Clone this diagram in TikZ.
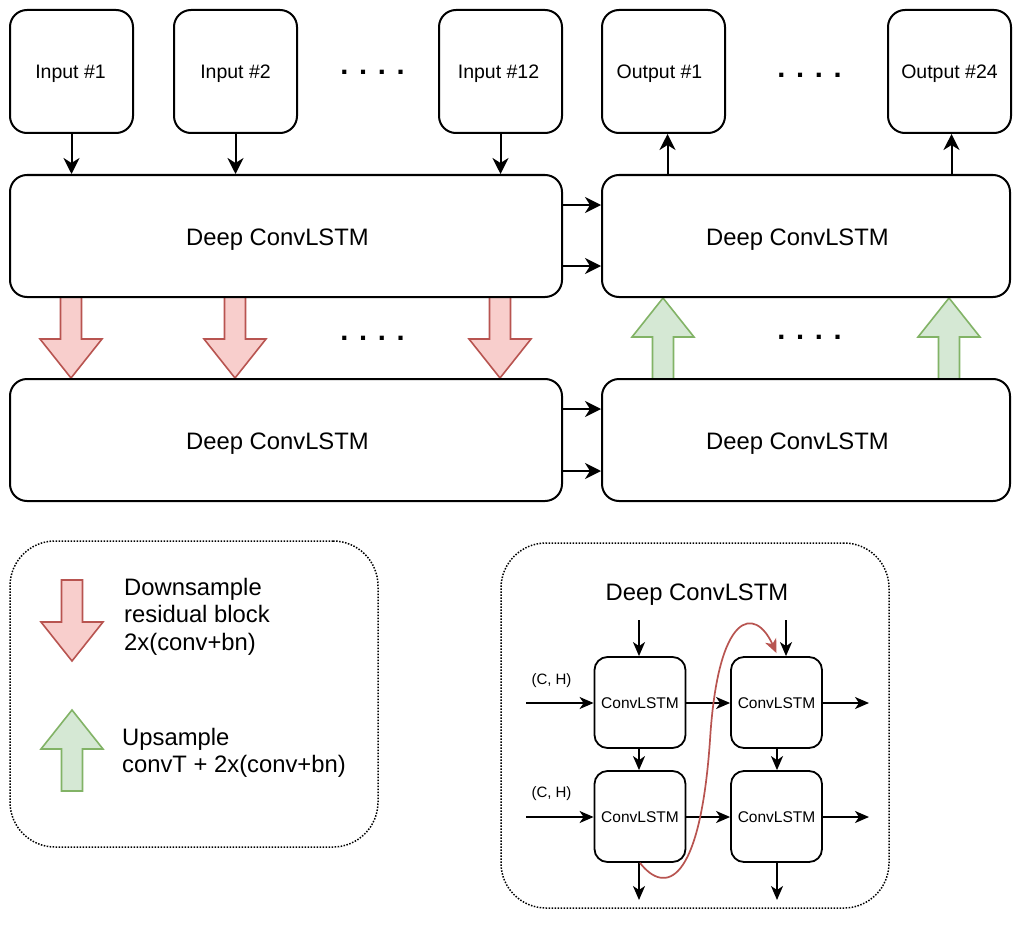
\documentclass[tikz,border=0pt]{standalone}
\usepackage{fontspec}
\setmainfont{Liberation Sans}
\usetikzlibrary{arrows.meta}
\definecolor{redfill}{HTML}{F8CECC}
\definecolor{redline}{HTML}{B85450}
\definecolor{greenfill}{HTML}{D5E8D4}
\definecolor{greenline}{HTML}{82B366}
\begin{document}
\begin{tikzpicture}[x=1pt,y=-1pt,
  box/.style={draw, line width=2pt, rounded corners=17pt, fill=white, inner sep=0pt},
  iobox/.style={box, minimum width=123pt, minimum height=123pt, text height=14.6pt, text depth=0pt, font=\fontsize{19.5}{23}\selectfont},
  deepbox/.style={box, minimum height=122pt, text height=18pt, text depth=0pt, font=\fontsize{23.8}{28}\selectfont},
  cellbox/.style={draw, line width=1.8pt, rounded corners=13pt, fill=white, inner sep=0pt, minimum width=91pt, minimum height=91pt, text height=11pt, text depth=0pt, font=\fontsize{15.5}{18}\selectfont},
  frame/.style={draw, line width=1.5pt, dash pattern=on 1.5pt off 1.5pt, rounded corners=45pt, inner sep=0pt},
  arr/.style={line width=2pt, -{Stealth[length=16pt,width=16pt,inset=5pt]}},
  smallarr/.style={line width=1.7pt, -{Stealth[length=14pt,width=12pt,inset=4pt]}},
  dots/.style={font=\fontsize{29}{34}\selectfont\bfseries, inner sep=0pt, anchor=base},
  legendtxt/.style={anchor=north west, inner sep=0pt, align=left, font=\fontsize{23.8}{27.5}\selectfont},
  redblk/.style={draw=redline, fill=redfill, line width=1.6pt},
  greenblk/.style={draw=greenline, fill=greenfill, line width=1.6pt},
  downblk/.pic={\path[redblk] (-10.5,0) -- (10.5,0) -- (10.5,42) -- (31,42) -- (0,81) -- (-31,42) -- (-10.5,42) -- cycle;},
  upblk/.pic={\path[greenblk] (-10.5,0) -- (10.5,0) -- (10.5,-42) -- (31,-42) -- (0,-81) -- (-31,-42) -- (-10.5,-42) -- cycle;},
]
\useasboundingbox[fill=white] (0,0) rectangle (1024,944);

% containers
\node[frame, minimum width=368pt, minimum height=306pt] (legend) at (194,694) {};
\node[frame, minimum width=388pt, minimum height=365pt] (detail) at (695,725.5) {};

% block arrows (behind boxes)
\pic at (71,297) {downblk};
\pic at (235,297) {downblk};
\pic at (500,297) {downblk};
\pic at (663,379) {upblk};
\pic at (949,379) {upblk};
\pic at (72,580) {downblk};
\pic at (72,791) {upblk};

% inputs / outputs
\node[iobox] (in1) at (71.5,71.5) {Input \#1\hspace*{2pt}};
\node[iobox] (in2) at (235.5,71.5) {Input \#2};
\node[iobox] (in12) at (500.5,71.5) {Input \#12\hspace*{4pt}};
\node[iobox] (out1) at (663.5,71.5) {Output \#1\hspace*{8pt}};
\node[iobox] (out24) at (949.5,71.5) {Output \#24};

% deep convlstm blocks
\node[deepbox, minimum width=552pt] (ltop) at (286,236) {Deep ConvLSTM\hspace*{17pt}};
\node[deepbox, minimum width=408pt] (rtop) at (806,236) {Deep ConvLSTM\hspace*{17pt}};
\node[deepbox, minimum width=552pt] (lbot) at (286,440) {Deep ConvLSTM\hspace*{17pt}};
\node[deepbox, minimum width=408pt] (rbot) at (806,440) {Deep ConvLSTM\hspace*{17pt}};

% dots
\node[dots] (d1) at (372.5,74.5) {. . . .};
\node[dots] (d2) at (372.5,340) {. . . .};
\node[dots] (d3) at (809.5,77.5) {. . . .};
\node[dots] (d4) at (809.5,339.5) {. . . .};

% connectors
\draw[arr] (in1.south) -- (in1.south |- ltop.north);
\draw[arr] (in2.south) -- (in2.south |- ltop.north);
\draw[arr] (in12.south) -- (in12.south |- ltop.north);
\draw[arr] ([xshift=4pt]out1.south |- rtop.north) -- ([xshift=4pt]out1.south);
\draw[arr] ([xshift=2pt]out24.south |- rtop.north) -- ([xshift=2pt]out24.south);
\draw[arr] ([yshift=31pt]ltop.east) -- ([yshift=31pt]ltop.east -| rtop.west);
\draw[arr] ([yshift=-30pt]ltop.east) -- ([yshift=-30pt]ltop.east -| rtop.west);
\draw[arr] ([yshift=31pt]lbot.east) -- ([yshift=31pt]lbot.east -| rbot.west);
\draw[arr] ([yshift=-31pt]lbot.east) -- ([yshift=-31pt]lbot.east -| rbot.west);

% legend text
\node[legendtxt] (downtxt) at (124,578) {Downsample\\residual block\\2x(conv+bn)};
\node[legendtxt] (uptxt) at (122,728) {Upsample\\convT + 2x(conv+bn)};

% detail of a Deep ConvLSTM
\node[inner sep=0pt, font=\fontsize{23.8}{28}\selectfont] (dtitle) at (697,595) {Deep ConvLSTM};
\node[cellbox] (c11) at (640,702.5) {ConvLSTM};
\node[cellbox] (c12) at (776.5,702.5) {ConvLSTM};
\node[cellbox] (c21) at (640,816.5) {ConvLSTM};
\node[cellbox] (c22) at (776.5,816.5) {ConvLSTM};
\node[font=\fontsize{15}{18}\selectfont, inner sep=0pt] (ch1) at (551.5,681) {(C, H)};
\node[font=\fontsize{15}{18}\selectfont, inner sep=0pt] (ch2) at (551.5,794) {(C, H)};

\coordinate (in11) at (526,703);
\coordinate (in21) at (526,817);
\coordinate (top1) at (639,620);
\coordinate (top2) at (786,620);
\coordinate (bot1) at (639,900);
\coordinate (bot2) at (777,900);
\coordinate (out11) at (869,703);
\coordinate (out21) at (869,817);

\draw[smallarr] (in11) -- (in11 -| c11.west);
\draw[smallarr] (in21) -- (in21 -| c21.west);
\draw[smallarr] (top1) -- (top1 |- c11.north);
\draw[smallarr] (top2) -- (top2 |- c12.north);
\draw[smallarr] (c11.south -| top1) -- (c21.north -| top1);
\draw[smallarr] (c12.south -| bot2) -- (c22.north -| bot2);
\draw[smallarr] (c21.south -| bot1) -- (bot1);
\draw[smallarr] (c22.south -| bot2) -- (bot2);
\draw[smallarr] (in11 -| c11.east) -- (in11 -| c12.west);
\draw[smallarr] (in21 -| c21.east) -- (in21 -| c22.west);
\draw[smallarr] (in11 -| c12.east) -- (out11);
\draw[smallarr] (in21 -| c22.east) -- (out21);

% skip connection
\draw[line width=1.7pt, redline, -{Stealth[length=14pt,width=12pt,inset=4pt]}]
  (c21.south) .. controls (665,895) and (700,885) .. (710,740)
  .. controls (718,610) and (755,606) .. ([yshift=3pt]c12.north);
\end{tikzpicture}
\end{document}
